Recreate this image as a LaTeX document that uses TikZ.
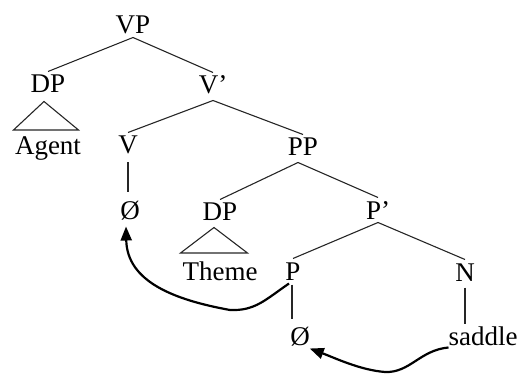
\documentclass[tikz,border=0pt]{standalone}
\usepackage{fontspec}
\setmainfont{Liberation Serif}
\usetikzlibrary{calc,arrows.meta}
\begin{document}
\begin{tikzpicture}[x=1pt,y=-1pt,
  tn/.style={font=\fontsize{27}{30}\selectfont, inner sep=0pt, anchor=base,
    text height=18pt, text depth=0pt, outer xsep=0pt, outer ysep=3.5pt},
  br/.style={draw=black!85, line width=1.1pt},
  mv/.style={draw=black, line width=2.2pt, -{Triangle[length=14pt,width=11pt]}}]
\useasboundingbox (0,0) rectangle (522,374);
\node[tn] (VP) at (133,34) {VP};
\node[tn] (DP) at (48,93) {DP};
\node[tn] (Vb) at (213,94) {V’};
\node[tn] (Agent) at (48,155) {Agent};
\node[tn] (V) at (128,154) {V};
\node[tn] (PP) at (303,156) {PP};
\node[tn] (phia) at (130,220) {Ø};
\node[tn] (DPb) at (220,221) {DP};
\node[tn] (Pb) at (378,219) {P’};
\node[tn] (Theme) at (220,280) {Theme};
\node[tn] (P) at (293,280) {P};
\node[tn] (N) at (465,281) {N};
\node[tn] (phib) at (300,345) {Ø};
\node[tn] (saddle) at (483,345) {saddle};
% branches
\draw[br] (VP.south) -- (DP.north);
\draw[br] (VP.south) -- (Vb.north);
\draw[br] ([yshift=-3pt]Vb.south) -- (V.north);
\draw[br] ([yshift=-3pt]Vb.south) -- (PP.north);
\draw[br] ([xshift=-5pt,yshift=-3pt]PP.south) -- (DPb.north);
\draw[br] ([xshift=-5pt,yshift=-3pt]PP.south) -- (Pb.north);
\draw[br] (Pb.south) -- (P.north);
\draw[br] (Pb.south) -- (N.north);
\draw[br] ([yshift=-5pt]V.south) -- ([yshift=6pt]V.south |- phia.north);
\draw[br] ([xshift=-1pt,yshift=-1pt]P.south) -- ([xshift=-1pt,yshift=5pt]P.south |- phib.north);
\draw[br] ([yshift=-3pt]N.south) -- ([yshift=0pt]N.south |- saddle.north);
% triangles
\draw[br] ($(DP.south)+(-4,5)$) -- ($(Agent.north west)+(-1.5,-3.5)$) -- ($(Agent.north east)+(-2.5,-3.5)$) -- cycle;
\draw[br] ($(DPb.south)+(-6,3)$) -- ($(Theme.north west)+(-2,-5.5)$) -- ($(Theme.north east)+(-10,-5.5)$) -- cycle;
% movement arrows
\draw[mv] ([xshift=-4pt]P.south) .. controls (265,300) and (255,311) .. (230,310)
  .. controls (175,300) and (127,282) .. ([xshift=-4pt,yshift=-3pt]phia.south);
\draw[mv] ([yshift=1pt]saddle.south west) .. controls (420,350) and (410,373) .. (385,372)
  .. controls (360,370) and (335,358) .. (phib.south east);
\end{tikzpicture}
\end{document}
